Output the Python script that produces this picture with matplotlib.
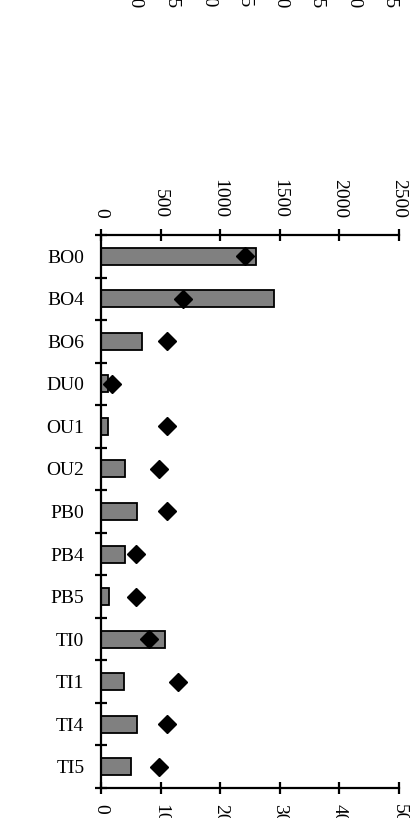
import matplotlib
matplotlib.use("Agg")
import matplotlib.pyplot as plt
import numpy as np

plt.rcParams['font.family'] = ['Liberation Serif', 'DejaVu Serif']

categories = ["BO0", "BO4", "BO6", "DU0", "OU1", "OU2", "PB0", "PB4", "PB5",
              "TI0", "TI1", "TI4", "TI5"]
bar_values = [1300, 1450, 340, 60, 60, 200, 300, 200, 65, 540, 195, 300, 250]
diamond_values = [24.2, 13.8, 11.1, 1.9, 11.1, 9.8, 11.1, 5.8, 5.8, 8.0, 12.9, 11.1, 9.8]
bar_ticks = [0, 500, 1000, 1500, 2000, 2500]
diamond_ticks = [0, 10, 20, 30, 40, 50]
ghost_labels = ["0.0", "0.5", "1.0", "1.5", "2.0", "2.5", "3.0", "3.5"]

W, H = 413, 818
fig = plt.figure(figsize=(W / 100, H / 100), dpi=100)
left, right_px, top_px, bot_px = 101, 399, 235, 788
ax = fig.add_axes([left / W, (H - bot_px) / H, (right_px - left) / W, (bot_px - top_px) / H])
ax2 = ax.twiny()

y = np.arange(len(categories))
FS = 14
LW = 1.6
TL = 9

# bars on the primary axes, scale shown on top
ax.barh(y, bar_values, height=0.4, color="#808080", edgecolor="black", linewidth=1.3, zorder=2)
ax.set_xlim(0, 2500)
ax.set_ylim(len(categories) - 0.5, -0.5)
ax.xaxis.tick_top()
ax.set_xticks(bar_ticks)
ax.set_xticklabels([str(t) for t in bar_ticks], rotation=-90, va="bottom", ha="center", fontsize=FS)
ax.tick_params(axis="x", direction="inout", length=TL, width=LW, pad=8)

ax.set_yticks(np.arange(-0.5, len(categories), 1.0))
ax.set_yticklabels([])
ax.set_yticks(y, minor=True)
ax.set_yticklabels(categories, minor=True, fontsize=FS)
ax.tick_params(axis="y", which="major", direction="inout", length=TL, width=LW)
ax.tick_params(axis="y", which="minor", length=0, pad=12)

for s in ["right", "bottom"]:
    ax.spines[s].set_visible(False)
for s in ["top", "left"]:
    ax.spines[s].set_visible(True)
    ax.spines[s].set_linewidth(LW)

# diamonds on the twin axes, scale shown at bottom
ax2.plot(diamond_values, y, linestyle="none", marker="D", markersize=9, color="black", zorder=3)
ax2.set_xlim(0, 50)
ax2.set_ylim(len(categories) - 0.5, -0.5)
ax2.xaxis.tick_bottom()
ax2.set_xticks(diamond_ticks)
ax2.set_xticklabels([str(t) for t in diamond_ticks], rotation=-90, va="top", ha="center", fontsize=FS)
ax2.tick_params(axis="x", direction="inout", length=TL, width=LW, pad=7)
for s in ["right", "top", "left"]:
    ax2.spines[s].set_visible(False)
ax2.spines["bottom"].set_visible(True)
ax2.spines["bottom"].set_linewidth(LW)

# cut-off labels of a panel above
gx0, gdx = 135, 36.4
for i, lab in enumerate(ghost_labels):
    fig.text((gx0 + i * gdx) / W, (H - 8) / H, lab, rotation=-90, ha="center", va="bottom", fontsize=FS)

fig.savefig("out.png", dpi=100)
